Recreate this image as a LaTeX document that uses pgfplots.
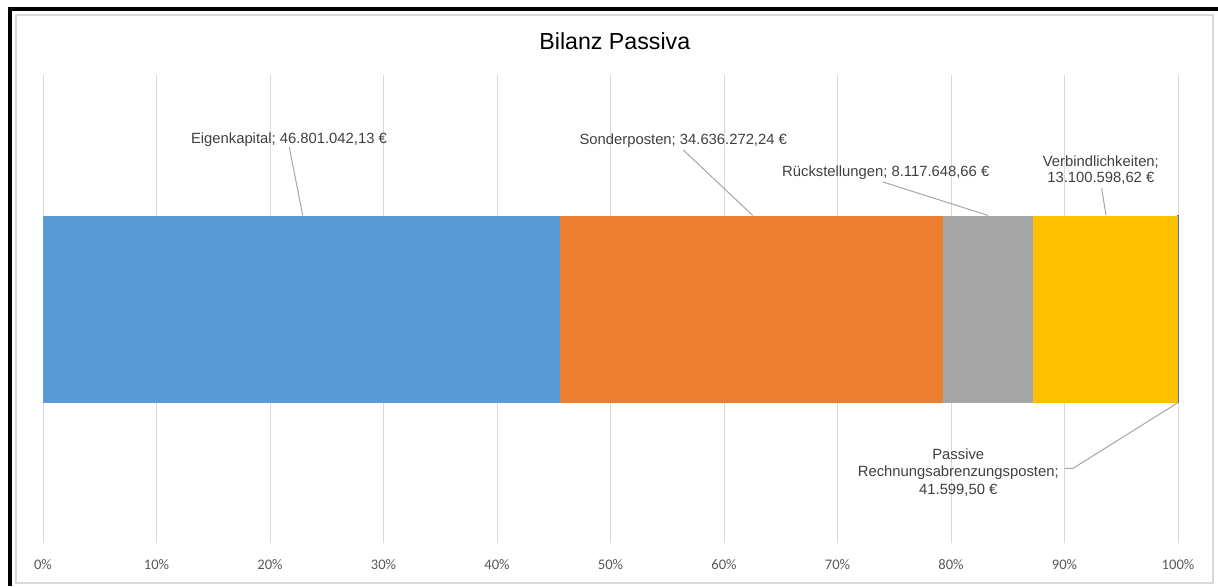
\documentclass[border=0pt]{standalone}
\usepackage{pgfplots}
\pgfplotsset{compat=1.18}
\usepackage{fontspec}
\setmainfont{Liberation Sans}
\newfontfamily\carlito{Carlito}
\definecolor{cBlue}{HTML}{5B9BD5}
\definecolor{cOrange}{HTML}{ED7D31}
\definecolor{cGray}{HTML}{A5A5A5}
\definecolor{cYellow}{HTML}{FFC000}
\definecolor{cDark}{HTML}{4472C4}
\definecolor{gridc}{HTML}{D9D9D9}
\definecolor{tickc}{HTML}{595959}
\definecolor{labc}{HTML}{404040}
\definecolor{leadc}{HTML}{A6A6A6}
\newcommand{\lab}{\fontsize{7.4}{9}\selectfont}
\begin{document}
\begin{tikzpicture}
\path[use as bounding box] (0,0) rectangle (609pt,293pt);
\fill[white] (0,0) rectangle (609pt,293pt);
\draw[black, line width=1.8pt] (5pt,0) -- (5pt,288.5pt) -- (609pt,288.5pt);
\draw[gridc, line width=0.75pt] (8pt,1.5pt) rectangle (606.6pt,285.5pt);
\node[anchor=base, font=\fontsize{11.6}{14}\selectfont, text=black, inner sep=0pt] at (307.4pt,268.5pt) {Bilanz Passiva};
\begin{axis}[
  at={(21.5pt,21.5pt)}, anchor=south west,
  scale only axis, width=567.5pt, height=234pt,
  xmin=0, xmax=100, ymin=-1, ymax=1,
  xbar stacked, bar width=93.5pt,
  axis line style={draw=none},
  major tick style={draw=none},
  ytick=\empty,
  xtick={0,10,20,30,40,50,60,70,80,90,100},
  xticklabels={0\%,10\%,20\%,30\%,40\%,50\%,60\%,70\%,80\%,90\%,100\%},
  xmajorgrids, grid style={color=gridc, line width=0.5pt},
  xticklabel style={anchor=base, yshift=-13pt, font=\carlito\fontsize{7.3}{9}\selectfont, text=tickc},
  clip=false,
]
\addplot[fill=cBlue, draw=none] coordinates {(45.5719,0)};
\addplot[fill=cOrange, draw=none] coordinates {(33.7266,0)};
\addplot[fill=cGray, draw=none] coordinates {(7.9045,0)};
\addplot[fill=cYellow, draw=none] coordinates {(12.7566,0)};
\addplot[fill=cDark, draw=cDark, line width=0.3pt] coordinates {(0.0405,0)};

\tikzset{lbl/.style={anchor=base, font=\lab, text=labc, inner sep=0pt}, leader/.style={leadc, line width=0.5pt}}
\node[lbl] at (axis cs:21.67,0.7081) {Eigenkapital; 46.801.042,13 €};
\draw[leader] (axis cs:21.70,0.691) -- (axis cs:22.88,0.4);
\node[lbl] at (axis cs:56.41,0.7051) {Sonderposten; 34.636.272,24 €};
\draw[leader] (axis cs:56.41,0.6795) -- (axis cs:62.53,0.4);
\node[lbl] at (axis cs:74.25,0.5654) {Rückstellungen; 8.117.648,66 €};
\draw[leader] (axis cs:74.01,0.5427) -- (axis cs:83.26,0.4);
\node[lbl] at (axis cs:93.2,0.6111) {Verbindlichkeiten;};
\node[lbl] at (axis cs:93.2,0.5385) {13.100.598,62 €};
\draw[leader] (axis cs:93.27,0.5158) -- (axis cs:93.66,0.4);
\node[lbl] at (axis cs:80.64,-0.6410) {Passive};
\node[lbl] at (axis cs:80.64,-0.7167) {Rechnungsabrenzungsposten;};
\node[lbl] at (axis cs:80.64,-0.7919) {41.599,50 €};
\draw[leader] (axis cs:90.04,-0.6808) -- (axis cs:90.75,-0.6808) -- (axis cs:100,-0.4);
\end{axis}
\end{tikzpicture}
\end{document}
